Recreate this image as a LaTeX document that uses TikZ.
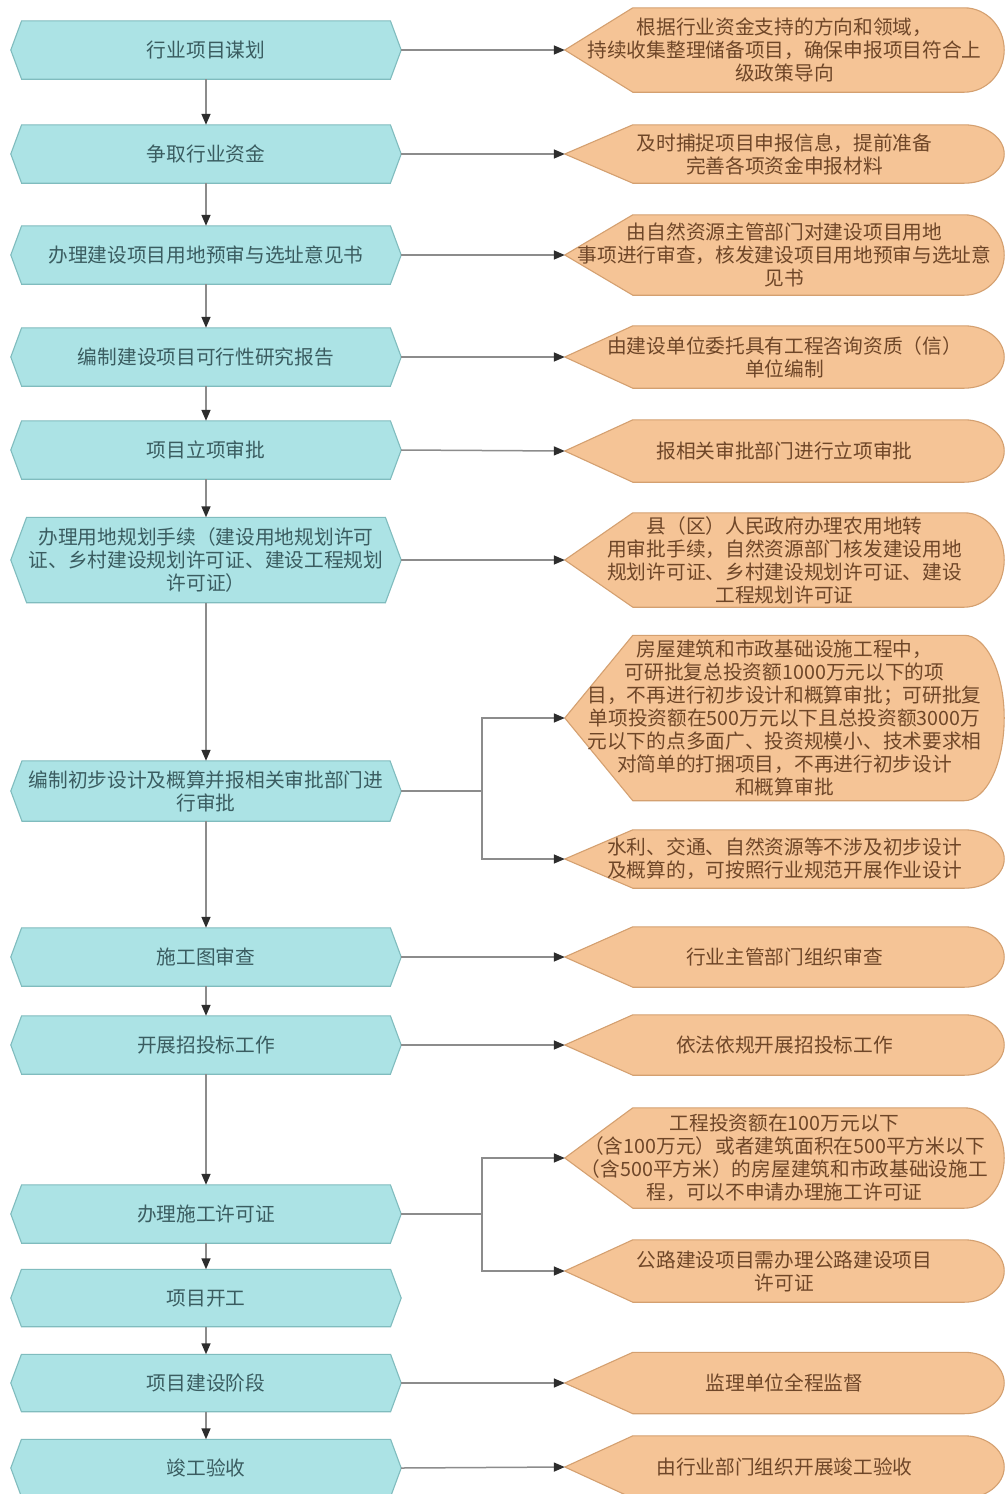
\documentclass[tikz,border=0pt]{standalone}
\usepackage{fontspec}
\setmainfont{Noto Sans CJK SC}
\usetikzlibrary{arrows.meta,calc,backgrounds}
\definecolor{tealfill}{RGB}{172,227,229}
\definecolor{tealdraw}{RGB}{128,188,190}
\definecolor{tealtext}{RGB}{58,92,96}
\definecolor{orgfill}{RGB}{245,196,150}
\definecolor{orgdraw}{RGB}{212,160,112}
\definecolor{orgtext}{RGB}{110,70,40}
\definecolor{linegray}{RGB}{140,140,140}
\definecolor{tipgray}{RGB}{45,45,45}
\begin{document}
\begin{tikzpicture}[x=1pt,y=-1pt,
  lnode/.style={minimum width=390pt, inner sep=0pt, align=center, text=tealtext,
    font=\fontsize{19.7pt}{23pt}\selectfont},
  rnode/.style={minimum width=439pt, inner sep=0pt, align=center, text=orgtext,
    font=\fontsize{19.7pt}{23pt}\selectfont},
  lshape/.style={fill=tealfill, draw=tealdraw, line width=1.1pt, line join=miter},
  rshape/.style={fill=orgfill, draw=orgdraw, line width=1.1pt},
  conn/.style={draw=linegray, line width=1.5pt},
  arr/.style={conn, -{Triangle[length=11pt,width=9pt,color=tipgray]}},
]
\useasboundingbox (0,0) rectangle (1005,1494);

% left column
\node[lnode, minimum height=58pt] (L1) at (206,50) {行业项目谋划};
\node[lnode, minimum height=58pt] (L2) at (206,154) {争取行业资金};
\node[lnode, minimum height=58pt] (L3) at (206,255) {办理建设项目用地预审与选址意见书};
\node[lnode, minimum height=58pt] (L4) at (206,357) {编制建设项目可行性研究报告};
\node[lnode, minimum height=58pt] (L5) at (206,450) {项目立项审批};
\node[lnode, minimum height=85pt] (L6) at (206,560) {办理用地规划手续（建设用地规划许可\\证、乡村建设规划许可证、建设工程规划\\许可证）};
\node[lnode, minimum height=60pt] (L7) at (206,791) {编制初步设计及概算并报相关审批部门进\\行审批};
\node[lnode, minimum height=58pt] (L8) at (206,957) {施工图审查};
\node[lnode, minimum height=58pt] (L9) at (206,1045) {开展招投标工作};
\node[lnode, minimum height=58pt] (L10) at (206,1214) {办理施工许可证};
\node[lnode, minimum height=57pt] (L11) at (206,1298) {项目开工};
\node[lnode, minimum height=57pt] (L12) at (206,1383) {项目建设阶段};
\node[lnode, minimum height=57pt] (L13) at (206,1468) {竣工验收};

% right column
\node[rnode, minimum height=84pt] (R1) at (784.5,50) {根据行业资金支持的方向和领域，\\持续收集整理储备项目，确保申报项目符合上\\级政策导向};
\node[rnode, minimum height=58pt] (R2) at (784.5,154) {及时捕捉项目申报信息，提前准备\\完善各项资金申报材料};
\node[rnode, minimum height=80pt] (R3) at (784.5,255) {由自然资源主管部门对建设项目用地\\事项进行审查，核发建设项目用地预审与选址意\\见书};
\node[rnode, minimum height=62pt] (R4) at (784.5,357) {由建设单位委托具有工程咨询资质（信）\\单位编制};
\node[rnode, minimum height=62pt] (R5) at (784.5,451) {报相关审批部门进行立项审批};
\node[rnode, minimum height=94pt] (R6) at (784.5,560) {县（区）人民政府办理农用地转\\用审批手续，自然资源部门核发建设用地\\规划许可证、乡村建设规划许可证、建设\\工程规划许可证};
\node[rnode, minimum height=165pt] (R7a) at (784.5,718) {房屋建筑和市政基础设施工程中，\\可研批复总投资额1000万元以下的项\\目，不再进行初步设计和概算审批；可研批复\\单项投资额在500万元以下且总投资额3000万\\元以下的点多面广、投资规模小、技术要求相\\对简单的打捆项目，不再进行初步设计\\和概算审批};
\node[rnode, minimum height=58pt] (R7b) at (784.5,859) {水利、交通、自然资源等不涉及初步设计\\及概算的，可按照行业规范开展作业设计};
\node[rnode, minimum height=60pt] (R8) at (784.5,957) {行业主管部门组织审查};
\node[rnode, minimum height=60pt] (R9) at (784.5,1045) {依法依规开展招投标工作};
\node[rnode, minimum height=100pt] (R10a) at (784.5,1158) {工程投资额在100万元以下\\（含100万元）或者建筑面积在500平方米以下\\（含500平方米）的房屋建筑和市政基础设施工\\程，可以不申请办理施工许可证};
\node[rnode, minimum height=62pt] (R10b) at (784.5,1271) {公路建设项目需办理公路建设项目\\许可证};
\node[rnode, minimum height=61pt] (R12) at (784.5,1383) {监理单位全程监督};
\node[rnode, minimum height=62pt] (R13) at (784.5,1467) {由行业部门组织开展竣工验收};

% shapes behind the texts
\begin{scope}[on background layer]
\fill[white] (0,0) rectangle (1005,1494);
\foreach \k in {L1,L2,L3,L4,L5,L6,L7,L8,L9,L10,L11,L12,L13}{
  \draw[lshape] let \p1=(\k.north), \p2=(\k.south), \n1={0.37*(\y1-\y2)/2} in
    (\k.west) -- ([xshift=\n1]\k.north west) -- ([xshift=-\n1]\k.north east)
    -- (\k.east) -- ([xshift=-\n1]\k.south east) -- ([xshift=\n1]\k.south west) -- cycle;
}
\foreach \k in {R1,R2,R3,R4,R5,R6,R7a,R7b,R8,R9,R10a,R10b,R12,R13}{
  \draw[rshape] let \p1=(\k.north), \p2=(\k.south), \n1={(\y1-\y2)/2} in
    (\k.west) -- ([xshift=68pt]\k.north west) -- ([xshift=-40pt]\k.north east)
    arc[start angle=90, end angle=-90, x radius=40pt, y radius=\n1]
    -- ([xshift=68pt]\k.south west) -- cycle;
}
\end{scope}

% vertical flow
\draw[arr] (L1.south) -- (L2.north);
\draw[arr] (L2.south) -- (L3.north);
\draw[arr] (L3.south) -- (L4.north);
\draw[arr] (L4.south) -- (L5.north);
\draw[arr] (L5.south) -- (L6.north);
\draw[arr] (L6.south) -- (L7.north);
\draw[arr] (L7.south) -- (L8.north);
\draw[arr] (L8.south) -- (L9.north);
\draw[arr] (L9.south) -- (L10.north);
\draw[arr] (L10.south) -- (L11.north);
\draw[arr] (L11.south) -- (L12.north);
\draw[arr] (L12.south) -- (L13.north);

% horizontal links
\draw[arr] (L1.east) -- (R1.west);
\draw[arr] (L2.east) -- (R2.west);
\draw[arr] (L3.east) -- (R3.west);
\draw[arr] (L4.east) -- (R4.west);
\draw[arr] (L5.east) -- (R5.west);
\draw[arr] (L6.east) -- (R6.west);
\coordinate (B7) at (482,791);
\draw[conn] (L7.east) -- (B7);
\draw[arr] (B7) |- (R7a.west);
\draw[arr] (B7) |- (R7b.west);
\draw[arr] (L8.east) -- (R8.west);
\draw[arr] (L9.east) -- (R9.west);
\coordinate (B10) at (482,1214);
\draw[conn] (L10.east) -- (B10);
\draw[arr] (B10) |- (R10a.west);
\draw[arr] (B10) |- (R10b.west);
\draw[arr] (L12.east) -- (R12.west);
\draw[arr] (L13.east) -- (R13.west);
\end{tikzpicture}
\end{document}
